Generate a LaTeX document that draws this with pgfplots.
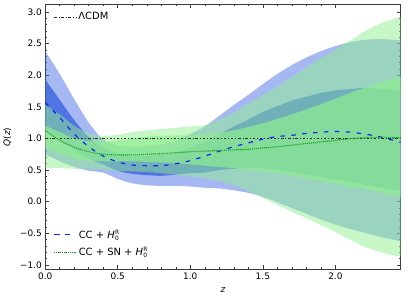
\documentclass[border={0pt 1pt 6pt 4pt}]{standalone}
\usepackage{pgfplots}
\pgfplotsset{compat=1.18}
\usepackage{pgfplotstable}
\usepgfplotslibrary{fillbetween}
\usepackage{fontspec}
\setmainfont{DejaVu Sans}
\definecolor{royal}{RGB}{65,105,225}
\definecolor{lgreen}{RGB}{144,238,144}
\definecolor{dblue}{RGB}{15,35,245}
\definecolor{dgreen}{RGB}{20,165,20}
\definecolor{axgray}{RGB}{60,60,60}
\newcommand{\HR}{{\itshape H\/}\kern0.3pt\raisebox{1.2pt}{\fontsize{6}{6}\selectfont\begin{tabular}{@{}l@{}}R\\[0pt]0\end{tabular}}}

\pgfplotstableread{
z    bm    b2l   b2u   b1l   b1u   gm     g2l   g2u   g1l   g1u
0.0  1.57  0.75  2.38  1.16  1.93  1.13   0.53  1.53  0.85  1.20
0.1  1.33  0.64  2.02  0.99  1.61  0.97   0.53  1.38  0.76  1.10
0.2  1.07  0.55  1.62  0.82  1.29  0.86   0.52  1.20  0.68  1.00
0.3  0.87  0.49  1.25  0.68  1.02  0.79   0.51  1.08  0.65  0.96
0.4  0.72  0.46  0.98  0.59  0.85  0.75   0.51  1.04  0.64  0.95
0.5  0.63  0.36  0.89  0.49  0.76  0.74   0.49  1.06  0.64  0.97
0.6  0.58  0.29  0.87  0.44  0.73  0.74   0.48  1.10  0.64  1.00
0.7  0.57  0.26  0.88  0.42  0.73  0.75   0.47  1.13  0.63  1.03
0.8  0.57  0.25  0.90  0.41  0.74  0.76   0.45  1.15  0.62  1.04
0.9  0.60  0.25  0.96  0.43  0.78  0.775  0.43  1.17  0.61  1.05
1.0  0.65  0.24  1.07  0.45  0.86  0.79   0.40  1.19  0.59  1.05
1.1  0.72  0.22  1.19  0.46  0.95  0.80   0.37  1.21  0.57  1.07
1.2  0.80  0.21  1.36  0.50  1.07  0.81   0.33  1.30  0.55  1.09
1.3  0.87  0.18  1.53  0.52  1.19  0.82   0.26  1.41  0.53  1.13
1.4  0.93  0.14  1.69  0.53  1.30  0.83   0.17  1.55  0.50  1.18
1.5  0.99  0.08  1.86  0.53  1.42  0.85   0.06  1.68  0.48  1.24
1.6  1.03  -0.01 2.02  0.50  1.51  0.87   -0.05 1.82  0.45  1.31
1.7  1.05  -0.10 2.16  0.47  1.60  0.895  -0.16 1.97  0.41  1.38
1.8  1.08  -0.19 2.28  0.43  1.66  0.92   -0.26 2.12  0.37  1.46
1.9  1.10  -0.28 2.38  0.39  1.72  0.945  -0.37 2.27  0.33  1.54
2.0  1.11  -0.36 2.46  0.35  1.76  0.97   -0.48 2.40  0.29  1.63
2.1  1.10  -0.43 2.52  0.31  1.78  0.995  -0.60 2.55  0.24  1.72
2.2  1.07  -0.49 2.56  0.27  1.80  1.01   -0.71 2.69  0.20  1.80
2.3  1.03  -0.55 2.57  0.23  1.79  1.02   -0.79 2.81  0.15  1.87
2.4  0.97  -0.60 2.56  0.19  1.77  1.015  -0.85 2.89  0.10  1.94
2.45 0.94  -0.63 2.55  0.17  1.76  1.01   -0.87 2.92  0.07  1.97
}\data

\pgfplotsset{
  myaxis/.style={
    width=358pt, height=267pt, scale only axis,
    xmin=0, xmax=2.45, ymin=-1.07, ymax=3.12,
  },
}

\begin{document}
\begin{tikzpicture}
\begin{axis}[myaxis,
  xtick={0,0.5,1,1.5,2},
  xticklabels={0.0,0.5,1.0,1.5,2.0},
  ytick={-1,-0.5,0,0.5,1,1.5,2,2.5,3},
  yticklabels={−1.0,−0.5,0.0,0.5,1.0,1.5,2.0,2.5,3.0},
  minor x tick num=4, minor y tick num=4,
  tick align=inside,
  major tick length=4pt, minor tick length=2pt,
  every tick/.style={axgray, line width=0.6pt},
  axis line style={axgray, line width=0.8pt},
  tick label style={font=\fontsize{9}{10}\selectfont},
  xlabel={\itshape z}, ylabel={{\itshape Q}({\itshape z})},
  label style={font=\fontsize{9}{10}\selectfont},
  ylabel style={yshift=2pt},
  xlabel style={yshift=-1pt},
  legend style={draw=none, fill=none, at={(0.015,0.985)}, anchor=north west,
    font=\fontsize{10}{12}\selectfont},
  legend image code/.code={\draw[#1] plot coordinates {(0pt,0pt) (11pt,0pt) (22pt,0pt)};},
  legend cell align=left,
]
\addplot[name path=b2u, draw=none, smooth, forget plot] table[x=z,y=b2u]{\data};
\addplot[name path=b2l, draw=none, smooth, forget plot] table[x=z,y=b2l]{\data};
\addplot[royal, fill opacity=0.47, draw=none, forget plot] fill between[of=b2u and b2l];
\addplot[name path=b1u, draw=none, smooth, forget plot] table[x=z,y=b1u]{\data};
\addplot[name path=b1l, draw=none, smooth, forget plot] table[x=z,y=b1l]{\data};
\addplot[royal, fill opacity=0.85, draw=none, forget plot] fill between[of=b1u and b1l];
\addplot[name path=g2u, draw=none, smooth, forget plot] table[x=z,y=g2u]{\data};
\addplot[name path=g2l, draw=none, smooth, forget plot] table[x=z,y=g2l]{\data};
\addplot[lgreen, fill opacity=0.5, draw=none, forget plot] fill between[of=g2u and g2l];
\addplot[name path=g1u, draw=none, smooth, forget plot] table[x=z,y=g1u]{\data};
\addplot[name path=g1l, draw=none, smooth, forget plot] table[x=z,y=g1l]{\data};
\addplot[lgreen, fill opacity=0.7, draw=none, forget plot] fill between[of=g1u and g1l];
\addplot[black!85, line width=0.8pt, dash pattern=on 2.4pt off 2pt on 0.8pt off 2pt] coordinates {(0,1) (2.45,1)};
\addlegendentry{ΛCDM}
\end{axis}
\begin{axis}[myaxis, hide axis,
  legend style={draw=none, fill=none, at={(0.015,0.03)}, anchor=south west,
    font=\fontsize{10}{12}\selectfont, row sep=3pt},
  legend image code/.code={\draw[#1] plot coordinates {(0pt,0pt) (11pt,0pt) (22pt,0pt)};},
  legend cell align=left,
]
\addplot[color=dblue, line width=1.2pt, dash pattern=on 4.5pt off 6.5pt, smooth] table[x=z,y=bm]{\data};
\addlegendentry{CC + \HR}
\addplot[color=dgreen, line width=1.1pt, dash pattern=on 1.1pt off 0.9pt, smooth] table[x=z,y=gm]{\data};
\addlegendentry{CC + SN + \HR}
\end{axis}
\end{tikzpicture}
\end{document}
